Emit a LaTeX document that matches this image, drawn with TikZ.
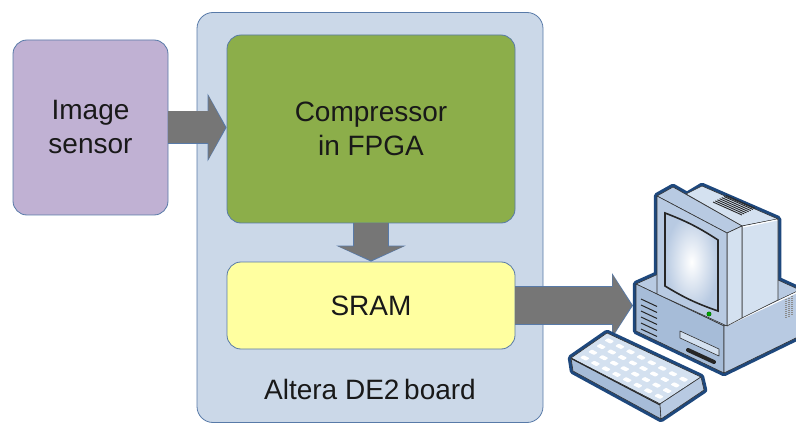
\documentclass[tikz,border=0pt]{standalone}
\usepackage{fontspec}
\setmainfont{Liberation Sans}
\usetikzlibrary{arrows.meta}

\definecolor{boardblue}{RGB}{203,216,232}
\definecolor{sensorpurple}{RGB}{192,177,211}
\definecolor{fpgagreen}{RGB}{140,174,74}
\definecolor{sramyellow}{RGB}{255,255,160}
\definecolor{edgeblue}{RGB}{88,122,168}
\definecolor{arrowgray}{RGB}{118,118,118}
\definecolor{pcblue}{RGB}{30,72,125}
\definecolor{pcface}{RGB}{184,202,226}
\definecolor{pclight}{RGB}{212,225,240}
\definecolor{pcdark}{RGB}{166,188,216}

\begin{document}
\begin{tikzpicture}[x=1pt,y=-1pt,
	box/.style={draw=edgeblue, line width=0.8pt, rounded corners=14pt, align=center,
		font=\fontsize{28}{34}\selectfont, text=black!90},
	arrowrim/.style={edgeblue, line width=#1},
	bigarrow/.style={arrowgray, line width=#1, shorten >=1.3pt},
	pcline/.style={draw=pcblue, line width=6.5pt, line join=round},
	pcedge/.style={draw=black!80, line width=0.6pt, line join=round}]
	\useasboundingbox (0,0) rectangle (796,425);

	%% board in the back, blocks on it
	\node[box, fill=boardblue, minimum width=346, minimum height=410, rounded corners=16pt] (board) at (370,217.5) {};
	\node[font=\fontsize{28}{34}\selectfont, text=black!90] (boardname) at (370,389) {Altera DE2\,board};
	\node[box, fill=sensorpurple, minimum width=155, minimum height=175] (sensor) at (90.5,127.5) {Image\\sensor};
	\node[box, fill=fpgagreen, minimum width=288, minimum height=188] (fpga) at (371,129) {Compressor\\in FPGA};
	\node[box, fill=sramyellow, minimum width=288, minimum height=87] (sram) at (371,305.5) {SRAM};
	\coordinate (pc) at (633,305.5);

	%% fat gray arrows, a thin blue rim under each
	\draw[arrowrim=33.6pt, -{Triangle[length=19pt,width=67pt]}] (sensor.east) -- (sensor.east -| fpga.west);
	\draw[bigarrow=32pt, -{Triangle[length=17pt,width=63pt]}] (sensor.east) -- (sensor.east -| fpga.west);
	\draw[arrowrim=35.6pt, -{Triangle[length=16pt,width=69pt]}] (fpga.south) -- (sram.north);
	\draw[bigarrow=34pt, -{Triangle[length=14pt,width=65pt]}] (fpga.south) -- (sram.north);
	\draw[arrowrim=38.6pt, -{Triangle[length=21pt,width=64pt]}] (sram.east) -- (pc);
	\draw[bigarrow=37pt, -{Triangle[length=19pt,width=60pt]}] (sram.east) -- (pc);

	%% computer: thick outline first, faces on top of it
	\draw[pcline] (636,284) -- (712,250) -- (800,290) -- (800,336) -- (724,373) -- (636,331) -- cycle;
	\draw[pcline] (657,294) -- (657,196) -- (673,187) -- (687,195) -- (702,186) -- (778,219) -- (778,300) -- (724,326) -- cycle;
	\draw[pcline] (607,333) -- (701,377) -- (704,390) -- (661,419) -- (573,371) -- (571,358) -- cycle;

	% case
	\filldraw[pcedge, fill=pcface] (636,284) -- (724,326) -- (800,290) -- (712,250) -- cycle;
	\filldraw[pcedge, fill=pcdark] (636,284) -- (724,326) -- (724,373) -- (636,331) -- cycle;
	\filldraw[pcedge, fill=pcface] (724,326) -- (800,290) -- (800,336) -- (724,373) -- cycle;
	\draw[white, line width=1.2pt] (726,326) -- (800,291);
	\foreach \k in {0,...,5}
		\draw[black!85, line width=1pt] (641,{299+6*\k}) -- ++(16,7.5);
	\filldraw[pcedge, fill=pclight] (680,331) -- (719,349) -- (719,356) -- (680,338) -- cycle;
	\draw[black!85, line width=4pt, line cap=round] (688,350) -- (714,362);
	\foreach \k in {0,1,2}
		\draw[black!45, line width=1.3pt, dash pattern=on 1pt off 1pt] ({786+3*\k},{299-1.4*\k}) -- ++(0,20);

	% monitor
	\filldraw[pcedge, fill=pclight] (686,194) -- (702,186) -- (778,219) -- (742,226) -- cycle;
	\foreach \k in {0,...,6}
		\draw[black!85, line width=0.9pt, shift={(2.2*\k,-1.1*\k)}] (713,202) -- (742,215);
	\filldraw[pcedge, fill=pclight] (742,226) -- (778,219) -- (778,300) -- (742,318) -- cycle;
	\filldraw[pcedge, fill=pcface] (657,196) -- (673,187) -- (742,226) -- (727,233) -- cycle;
	\filldraw[pcedge, fill=pclight] (727,233) -- (742,226) -- (742,318) -- (727,326) -- cycle;
	\draw[white, line width=1.2pt] (743,227) -- (777,220);
	\filldraw[pcedge, fill=pcface] (657,196) -- (727,233) -- (727,326) -- (657,294) -- cycle;
	\draw[black!85, line width=1.6pt, inner color=white, outer color=pcface]
		(665,213) to[bend left=6] (718,240) -- (718,311) to[bend left=6] (665,286) -- cycle;
	\filldraw[draw=green!40!black, fill=green!65!black] (709,314) circle (2.2);

	% keyboard
	\filldraw[pcedge, fill=pclight] (607,333) -- (571,358) -- (660,404) -- (701,377) -- cycle;
	\filldraw[pcedge, fill=pcdark] (571,358) -- (660,404) -- (661,419) -- (573,371) -- cycle;
	\filldraw[pcedge, fill=pcface] (660,404) -- (701,377) -- (704,390) -- (661,419) -- cycle;
	\draw[black!85, line width=1pt] (572,359) -- (660,405);
	\foreach \s in {0,...,7}
		\foreach \t in {0,...,3}
			\fill[white, rounded corners=0.8pt]
				({573+89*(\s+0.35)/8.4+36*(\t+0.4)/4.4}, {358+46*(\s+0.35)/8.4-25*(\t+0.4)/4.4})
				-- ++(6,3.1) -- ++(3.6,-2.5) -- ++(-6,-3.1) -- cycle;
\end{tikzpicture}
\end{document}
